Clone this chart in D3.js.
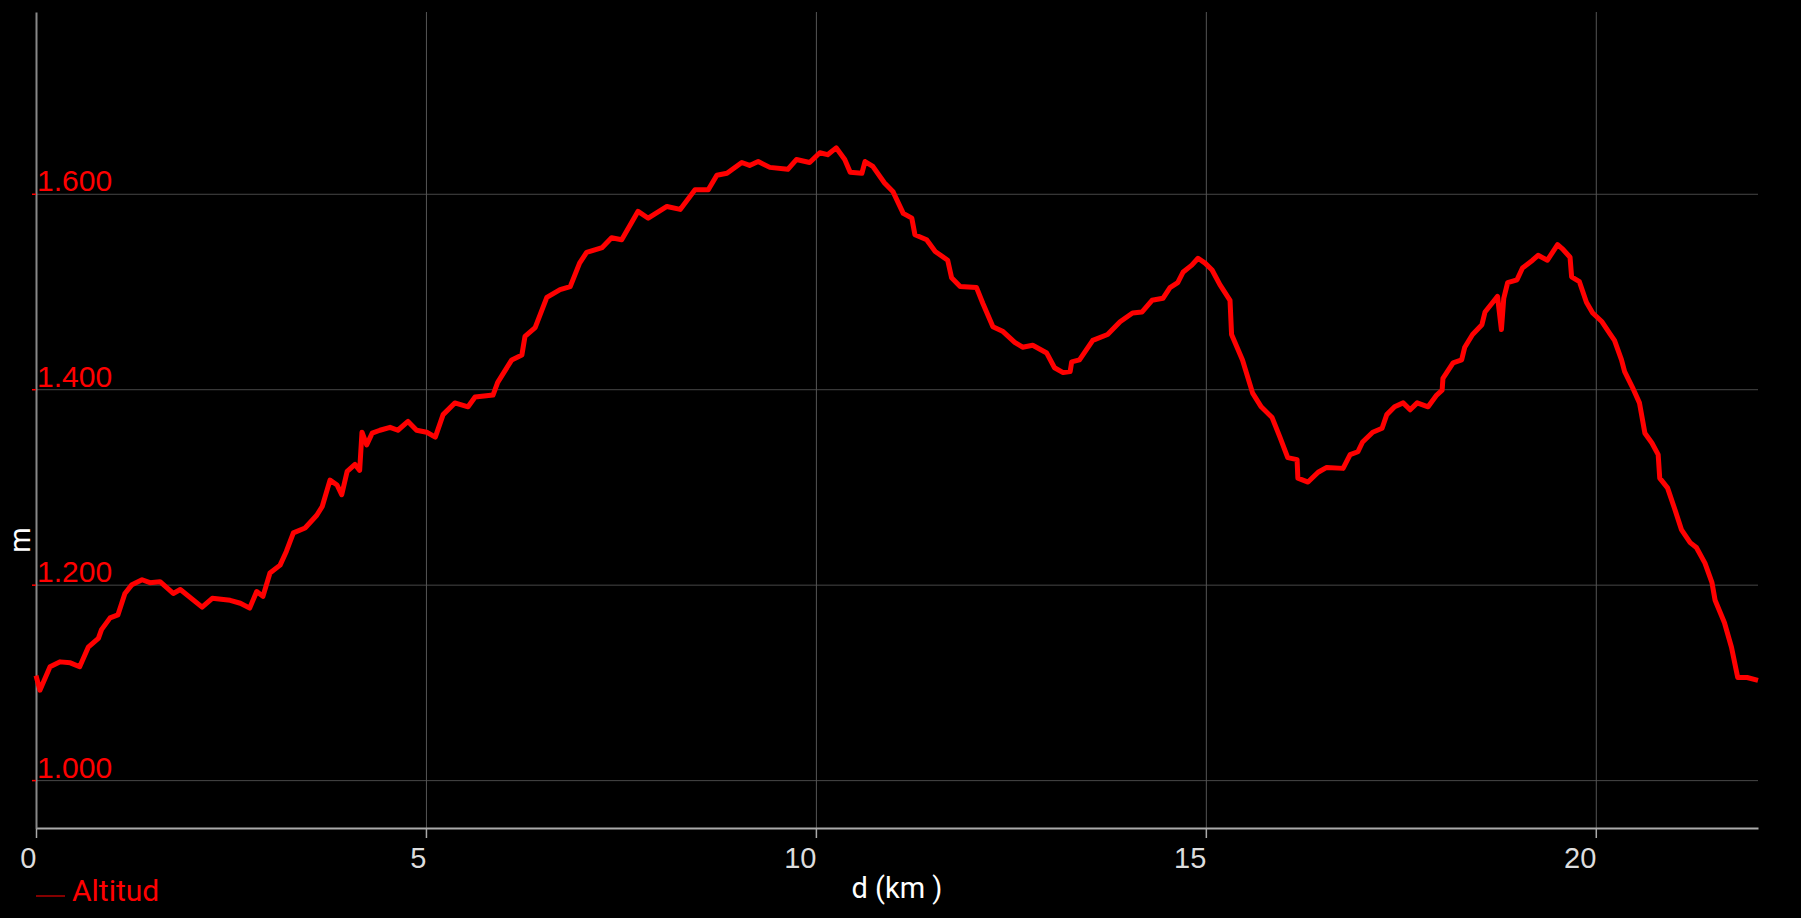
<!DOCTYPE html>
<meta charset="utf-8">
<style>

body {
  margin: 0;
  background: #000;
}

svg {
  display: block;
  background: #000;
  font-family: Roboto, "Noto Sans", sans-serif;
}

.grid line {
  stroke: #474747;
  stroke-width: 1px;
}

.grid-x line {
  stroke: #555;
  stroke-width: 1px;
}

.profile {
  fill: none;
  stroke: #ff0000;
  stroke-width: 5px;
  stroke-linejoin: round;
}

</style>
<body>
<script src="https://cdn.jsdelivr.net/npm/d3@7"></script>
<script>

var dist = [0, 0.05, 0.18, 0.31, 0.44, 0.56, 0.67, 0.8, 0.84, 0.95,
            1.05, 1.14, 1.23, 1.36, 1.46, 1.59, 1.76, 1.85, 2.13, 2.26,
            2.49, 2.62, 2.74, 2.83, 2.91, 3.0, 3.13, 3.21, 3.3, 3.45,
            3.6, 3.67, 3.77, 3.86, 3.92, 3.99, 4.09, 4.15, 4.18, 4.24,
            4.31, 4.41, 4.54, 4.64, 4.77, 4.88, 5.01, 5.12, 5.22, 5.37,
            5.54, 5.63, 5.86, 5.92, 6.1, 6.23, 6.27, 6.4, 6.55, 6.72,
            6.85, 6.97, 7.06, 7.26, 7.38, 7.51, 7.72, 7.85, 8.09, 8.26,
            8.45, 8.62, 8.73, 8.86, 9.05, 9.15, 9.26, 9.41, 9.64, 9.75,
            9.92, 10.05, 10.15, 10.26, 10.37, 10.44, 10.59, 10.63, 10.73, 10.88,
            10.99, 11.12, 11.23, 11.27, 11.42, 11.53, 11.69, 11.74, 11.85, 12.06,
            12.14, 12.27, 12.4, 12.55, 12.65, 12.78, 12.96, 13.06, 13.17, 13.26,
            13.28, 13.38, 13.55, 13.74, 13.9, 14.06, 14.18, 14.31, 14.45, 14.54,
            14.64, 14.71, 14.82, 14.9, 14.99, 15.08, 15.18, 15.31, 15.33, 15.47,
            15.6, 15.71, 15.85, 15.95, 16.05, 16.17, 16.18, 16.31, 16.44, 16.55,
            16.76, 16.85, 16.95, 17.01, 17.14, 17.26, 17.32, 17.42, 17.53, 17.62,
            17.71, 17.85, 17.96, 18.03, 18.04, 18.17, 18.28, 18.32, 18.42, 18.54,
            18.58, 18.68, 18.74, 18.79, 18.82, 18.87, 18.99, 19.06, 19.19, 19.26,
            19.38, 19.51, 19.58, 19.67, 19.69, 19.79, 19.88, 19.96, 20.08, 20.18,
            20.24, 20.33, 20.37, 20.47, 20.56, 20.63, 20.72, 20.8, 20.82, 20.92,
            21.01, 21.1, 21.21, 21.29, 21.4, 21.49, 21.53, 21.65, 21.74, 21.82,
            21.94, 22.08];

var altitud = [1107, 1092, 1116, 1121, 1120, 1116, 1136, 1145, 1154, 1166,
               1169, 1191, 1200, 1205, 1202, 1203, 1191, 1195, 1177, 1186,
               1184, 1181, 1176, 1193, 1188, 1212, 1220, 1234, 1253, 1258,
               1271, 1280, 1307, 1302, 1292, 1316, 1323, 1317, 1356, 1343,
               1355, 1358, 1361, 1358, 1367, 1358, 1356, 1351, 1374, 1386,
               1382, 1392, 1394, 1407, 1430, 1435, 1454, 1463, 1494, 1502,
               1505, 1529, 1540, 1545, 1555, 1553, 1582, 1575, 1587, 1584,
               1604, 1604, 1619, 1621, 1632, 1629, 1633, 1627, 1625, 1635,
               1632, 1642, 1640, 1647, 1635, 1622, 1621, 1633, 1628, 1611,
               1602, 1580, 1575, 1558, 1553, 1541, 1532, 1514, 1505, 1504,
               1488, 1464, 1459, 1448, 1443, 1445, 1437, 1422, 1417, 1418,
               1428, 1430, 1450, 1456, 1469, 1478, 1479, 1491, 1493, 1504,
               1509, 1520, 1527, 1534, 1529, 1522, 1507, 1491, 1456, 1430,
               1396, 1382, 1371, 1351, 1330, 1328, 1309, 1305, 1315, 1320,
               1319, 1333, 1336, 1346, 1356, 1360, 1374, 1382, 1386, 1379,
               1386, 1382, 1394, 1399, 1411, 1427, 1430, 1443, 1456, 1466,
               1479, 1489, 1495, 1461, 1493, 1509, 1512, 1524, 1532, 1537,
               1532, 1548, 1543, 1535, 1515, 1510, 1489, 1478, 1469, 1457,
               1450, 1430, 1418, 1402, 1386, 1355, 1345, 1333, 1309, 1299,
               1278, 1256, 1243, 1238, 1222, 1202, 1184, 1161, 1136, 1105,
               1105, 1102];

var xTicks = [0, 5, 10, 15, 20];
var yTicks = [1000, 1200, 1400, 1600];

var points = dist.map(function (d, i) { return {d: d, alt: altitud[i]}; });

var es = d3.formatLocale({decimal: ",", thousands: ".", grouping: [3], currency: ["", "€"]});
var fmt = es.format(",d");

var W = 1801,
    H = 918,
    plotLeft = 36,
    plotTop = 12,
    plotRight = 1758,
    plotBottom = 828;

var svg = d3.select("body").append("svg")
    .attr("width", W)
    .attr("height", H);

var x = d3.scaleLinear().domain([0, 22.08]).range([plotLeft, plotRight]);
var y = d3.scaleLinear().domain([951, 1786]).range([plotBottom, plotTop]);

// rejilla horizontal
svg.append("g")
    .attr("class", "grid")
  .selectAll("line")
    .data(yTicks)
  .enter().append("line")
    .attr("x1", plotLeft)
    .attr("x2", plotRight)
    .attr("y1", function (d) { return y(d) + 0.5; })
    .attr("y2", function (d) { return y(d) + 0.5; });

// rejilla vertical
svg.append("g")
    .attr("class", "grid-x")
  .selectAll("line")
    .data(xTicks.slice(1))
  .enter().append("line")
    .attr("x1", function (d) { return x(d) + 0.5; })
    .attr("x2", function (d) { return x(d) + 0.5; })
    .attr("y1", plotTop)
    .attr("y2", plotBottom);

// eje x
var xAxis = svg.append("g")
    .attr("transform", "translate(0," + plotBottom + ")")
    .call(d3.axisBottom(x).tickValues(xTicks).tickSize(10).tickSizeOuter(0).tickFormat(d3.format("d")));

xAxis.select(".domain").attr("stroke", "#aaa").attr("stroke-width", 2);
xAxis.selectAll(".tick line").attr("stroke", "#aaa").attr("stroke-width", 1.5);
xAxis.selectAll(".tick text")
    .attr("fill", "#ddd")
    .attr("font-size", 29)
    .attr("text-anchor", "end")
    .attr("x", 0)
    .attr("y", 40)
    .attr("dy", 0);

// eje y
var yAxis = svg.append("g")
    .attr("transform", "translate(" + plotLeft + ",0)")
    .call(d3.axisLeft(y).tickValues(yTicks).tickSize(4).tickSizeOuter(0).tickFormat(fmt));

yAxis.select(".domain").attr("stroke", "#888").attr("stroke-width", 2);
yAxis.selectAll(".tick line").attr("stroke", "#ff0000").attr("stroke-width", 1.5);
yAxis.selectAll(".tick text")
    .attr("fill", "#ff0000")
    .attr("font-size", 30)
    .attr("text-anchor", "start")
    .attr("x", 1)
    .attr("y", -3)
    .attr("dy", 0);

// perfil
var line = d3.line()
    .x(function (p) { return x(p.d); })
    .y(function (p) { return y(p.alt); });

svg.append("path")
    .datum(points)
    .attr("class", "profile")
    .attr("d", line);

// titulos de ejes
svg.append("text")
    .attr("x", 897)
    .attr("y", 898)
    .attr("text-anchor", "middle")
    .attr("font-size", 29)
    .attr("fill", "#fff")
    .text("d (km )");

svg.append("text")
    .attr("transform", "translate(30,540) rotate(-90)")
    .attr("text-anchor", "middle")
    .attr("font-size", 29)
    .attr("fill", "#fff")
    .text("m");

// leyenda
svg.append("line")
    .attr("x1", 36)
    .attr("x2", 65)
    .attr("y1", 896)
    .attr("y2", 896)
    .attr("stroke", "#b00000")
    .attr("stroke-width", 1.5);

svg.append("text")
    .attr("x", 72)
    .attr("y", 901)
    .attr("font-size", 30)
    .attr("fill", "#ff0000")
    .text("Altitud");

</script>
